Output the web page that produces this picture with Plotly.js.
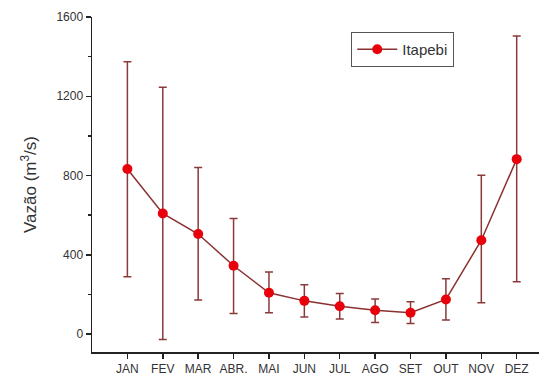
<!DOCTYPE html>
<html><head><meta charset="utf-8">
<script src="https://cdn.plot.ly/plotly-3.0.1.min.js"></script>
<style>html,body{margin:0;padding:0;background:#fff}#chart{width:539px;height:379px}</style>
</head><body><div id="chart"></div>
<script>
var months = ["JAN","FEV","MAR","ABR.","MAI","JUN","JUL","AGO","SET","OUT","NOV","DEZ"];
var means  = [833, 609, 505, 345, 209, 168, 141, 121, 108, 175, 474, 883];
var upper  = [1374, 1245, 841, 584, 313, 249, 205, 177, 163, 279, 802, 1504];
var lower  = [289, -27, 172, 104, 108, 87, 76, 59, 54, 71, 158, 264];
var seriesName = "Itapebi";
var yTicks = [0, 400, 800, 1200, 1600];

var plus = upper.map(function(u,i){return u - means[i];});
var minus = lower.map(function(l,i){return means[i] - l;});

var trace = {
  x: months, y: means, type: 'scatter', mode: 'lines+markers', name: seriesName,
  line: {color: '#8b3030', width: 1.5},
  marker: {color: '#e8000b', size: 10, line: {width: 0}},
  error_y: {type: 'data', symmetric: false, array: plus, arrayminus: minus,
            color: '#8b3a3a', thickness: 1.5, width: 4}
};
var layout = {
  width: 539, height: 379,
  margin: {l: 92, r: 0, t: 17, b: 27},
  paper_bgcolor: '#fff', plot_bgcolor: '#fff',
  font: {family: 'Liberation Sans, Arial, sans-serif', size: 12, color: '#333'},
  showlegend: true,
  legend: {x: 0.58, y: 0.955, xanchor: 'left', yanchor: 'top', itemwidth: 40,
           bordercolor: '#555', borderwidth: 1, bgcolor: '#fff',
           font: {size: 15, color: '#333'}},
  xaxis: {type: 'category', range: [-1, 11.63], showline: true, linecolor: '#222', linewidth: 1.5,
          ticks: 'outside', ticklen: 5, tickwidth: 1.5, tickcolor: '#222', showgrid: false, zeroline: false,
          tickfont: {size: 12, color: '#333'}},
  yaxis: {range: [-90, 1600], showline: true, linecolor: '#222', linewidth: 1.5,
          tickvals: yTicks, ticks: 'outside', ticklen: 5, tickwidth: 1.5, tickcolor: '#222',
          minor: {dtick: 200, tick0: 0, ticks: 'outside', ticklen: 3, tickcolor: '#222', showgrid: false},
          showgrid: false, zeroline: false, tickfont: {size: 12, color: '#333'},
          title: {text: 'Vazão (m<sup>3</sup>/s)', font: {size: 17, color: '#333'}, standoff: 15}}
};
Plotly.newPlot('chart', [trace], layout, {displayModeBar: false, staticPlot: true});
</script></body></html>
